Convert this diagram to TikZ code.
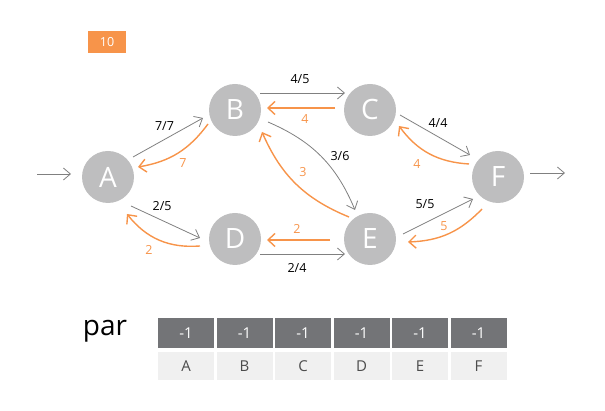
\documentclass[tikz,border=0pt]{standalone}
\usepackage{fontspec}
\setmainfont{Open Sans}
\usetikzlibrary{arrows.meta,calc}
\definecolor{ngray}{HTML}{BEBEBF}
\definecolor{lgray}{HTML}{808080}
\definecolor{org}{HTML}{F7944A}
\definecolor{dcell}{HTML}{737477}
\definecolor{lcell}{HTML}{F0F0F0}
\begin{document}
\begin{tikzpicture}[x=1pt,y=1pt,
  vert/.style={circle,fill=ngray,minimum size=52pt,inner sep=0pt,text=white,font=\fontsize{28}{28}\selectfont},
  fl/.style={draw=lgray,line width=0.8pt,-{Straight Barb[length=7pt,width=12pt]}},
  rv/.style={draw=org,line width=1.4pt,-{Straight Barb[length=7pt,width=13pt]}},
  lb/.style={font=\fontsize{12.5}{12.5}\selectfont,text=black},
  ol/.style={font=\fontsize{12.5}{12.5}\selectfont,text=org},
  dc/.style={fill=dcell,minimum width=56pt,minimum height=30pt,inner sep=0pt,text=white,font=\fontsize{15}{15}\selectfont},
  lc/.style={fill=lcell,minimum width=56pt,minimum height=28pt,inner sep=0pt,text=black!70,font=\fontsize{15}{15}\selectfont}]
\useasboundingbox (0,0) rectangle (605,411);
\node[fill=org,minimum width=38pt,minimum height=22pt,inner sep=0pt,text=white,font=\fontsize{12.5}{12.5}\selectfont] (cnt) at (107,369) {10};
\node[vert] (A) at (108,234) {A};
\node[vert] (B) at (235,301) {B};
\node[vert] (C) at (370,301) {C};
\node[vert] (D) at (235,172) {D};
\node[vert] (E) at (370,172) {E};
\node[vert] (F) at (498,234) {F};
\coordinate (in) at (37,237);
\coordinate (out) at (565,238);
\draw[fl] (in) -- ($(A)+(-37,3)$);
\draw[fl] ($(F)+(32,4)$) -- (out);
% flow edges
\draw[fl] ($(A)+(25,20)$) -- ($(B)+(-32,-8)$) node[lb,pos=0.45,above=5pt] {7/7};
\draw[fl] ($(A)+(23,-29)$) -- ($(D)+(-35,1)$) node[lb,pos=0.45,above=6pt] {2/5};
\draw[fl] ($(B)+(25,17)$) -- ($(C)+(-25,17)$);
\node[lb] (l45) at (300,332) {4/5};
\draw[fl] ($(D)+(25,-15)$) -- ($(E)+(-25,-15)$);
\node[lb] (l24) at (297,143) {2/4};
\draw[fl] ($(B)+(33,-12)$) to[bend left=22] ($(E)+(-15,29)$);
\node[lb] (l36) at (340,255) {3/6};
\draw[fl] ($(C)+(30,-5)$) -- ($(F)+(-28,22)$);
\node[lb] (l44) at (438,288) {4/4};
\draw[fl] ($(E)+(33,5)$) -- ($(F)+(-25,-22)$);
\node[lb] (l55) at (425,207) {5/5};
% residual edges
\draw[rv] ($(B)+(-27,-14)$) to[bend left=22] ($(A)+(30,10)$);
\node[ol] (r7) at (183,248) {7};
\draw[rv] ($(D)+(-35,-7)$) to[bend left=28] ($(A)+(19,-37)$);
\node[ol] (r2a) at (149,161) {2};
\draw[rv] ($(C)+(-35,2)$) -- ($(B)+(32,2)$);
\node[ol] (r4a) at (305,292) {4};
\draw[rv] ($(E)+(-40,-1)$) -- ($(D)+(32,-1)$);
\node[ol] (r2b) at (297,182) {2};
\draw[rv] ($(E)+(-21,22)$) to[bend left=22] ($(B)+(27,-22)$);
\node[ol] (r3) at (303,239) {3};
\draw[rv] ($(F)+(-29,13)$) to[bend left=25] ($(C)+(29,-16)$);
\node[ol] (r4b) at (417,247) {4};
\draw[rv] ($(F)+(-16,-32)$) to[bend left=22] ($(E)+(38,-3)$);
\node[ol] (r5) at (444,185) {5};
% table
\node[font=\fontsize{28}{28}\selectfont] (par) at (105,80) {par};
\foreach \n [count=\i from 0] in {A,B,C,D,E,F} {
  \node[dc] (p\n) at (186+58.5*\i,78) {-1};
  \node[lc] (q\n) at (186+58.5*\i,45) {\n};
}
\end{tikzpicture}
\end{document}
